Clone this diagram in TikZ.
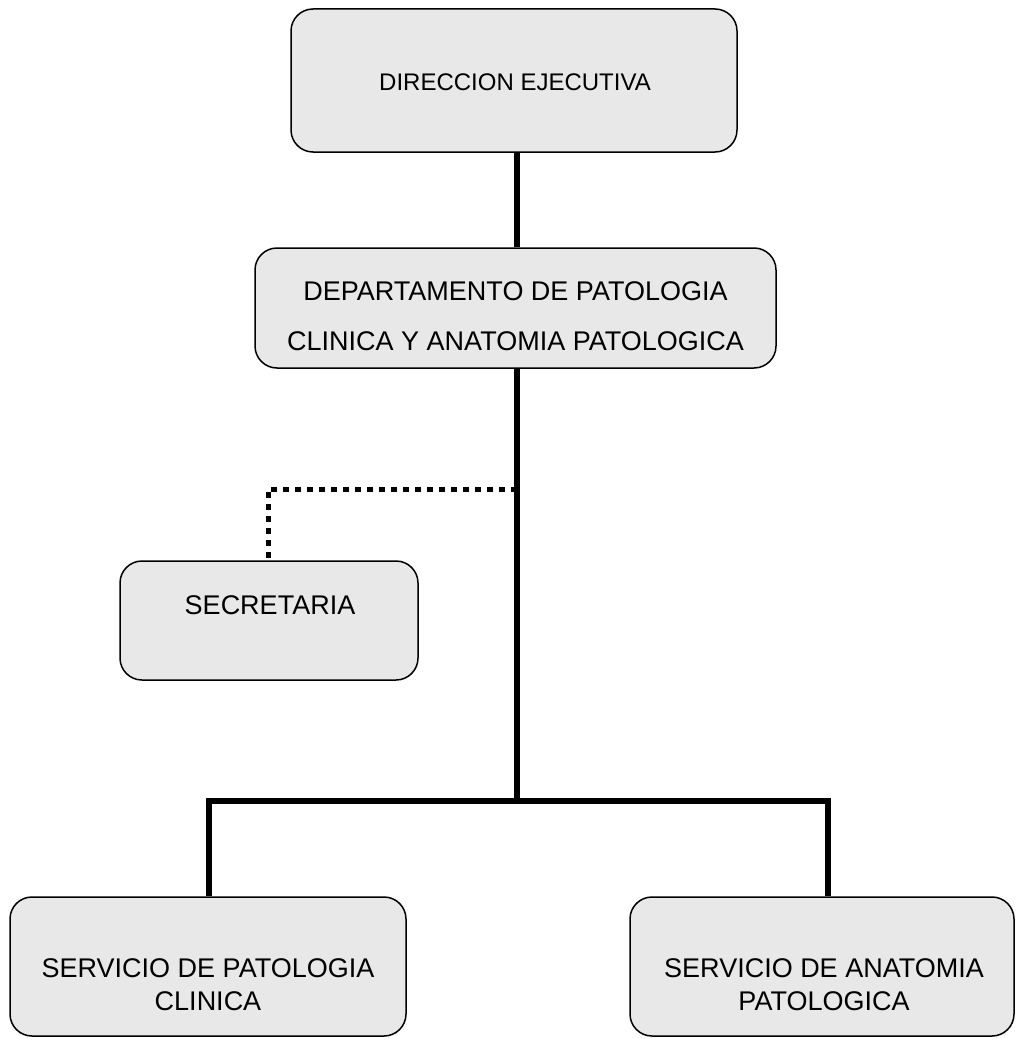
\documentclass[tikz,border=0pt]{standalone}
\usepackage{fontspec}
\setmainfont{Liberation Sans}
\definecolor{boxfill}{HTML}{E8E8E8}
\begin{document}
\begin{tikzpicture}[x=1pt,y=-1pt,
  orgbox/.style={draw=black, line width=1.5pt, fill=boxfill, rounded corners=22pt,
    rectangle, inner sep=0pt},
  lbl/.style={anchor=base, inner sep=0pt, font=\fontsize{27}{30}\selectfont},
  conn/.style={line width=5.5pt},
  dotconn/.style={line width=5pt, dash pattern=on 6pt off 6pt}]
\useasboundingbox (0,0) rectangle (1016,1038);
% boxes
\node[orgbox, minimum width=446pt, minimum height=143pt] (dir) at (514,80.5) {};
\node[orgbox, minimum width=521pt, minimum height=120pt] (dep) at (515.5,308) {};
\node[orgbox, minimum width=298pt, minimum height=119pt] (sec) at (269,620.5) {};
\node[orgbox, minimum width=396pt, minimum height=139pt] (spc) at (208,966.5) {};
\node[orgbox, minimum width=384pt, minimum height=139pt] (sap) at (822,966.5) {};
% texts
\node[lbl, font=\fontsize{24}{28}\selectfont] (dirT) at (515,91) {DIRECCION EJECUTIVA};
\node[lbl] (depT1) at (515.5,300) {DEPARTAMENTO DE PATOLOGIA};
\node[lbl] (depT2) at (515.5,350) {CLINICA Y ANATOMIA PATOLOGICA};
\node[lbl] (secT) at (270,614) {SECRETARIA};
\node[lbl] (spcT1) at (208,977) {SERVICIO DE PATOLOGIA};
\node[lbl] (spcT2) at (208,1010) {CLINICA};
\node[lbl] (sapT1) at (824,977) {SERVICIO DE ANATOMIA};
\node[lbl] (sapT2) at (824,1010) {PATOLOGICA};
% junctions
\coordinate (j1) at (517,489);
\coordinate (j2) at (517,801);
\coordinate (bl) at (209,801);
\coordinate (br) at (828,801);
\coordinate (dc) at (268,489);
% connectors
\draw[conn] (dir.south -| j1) -- (dep.north -| j1);
\draw[conn] (dep.south -| j2) -- (j2);
\draw[conn] (spc.north -| bl) -- (bl) -- (br) -- (sap.north -| br);
\draw[dotconn] (j1) -- (dc) -- (sec.north -| dc);
\end{tikzpicture}
\end{document}
